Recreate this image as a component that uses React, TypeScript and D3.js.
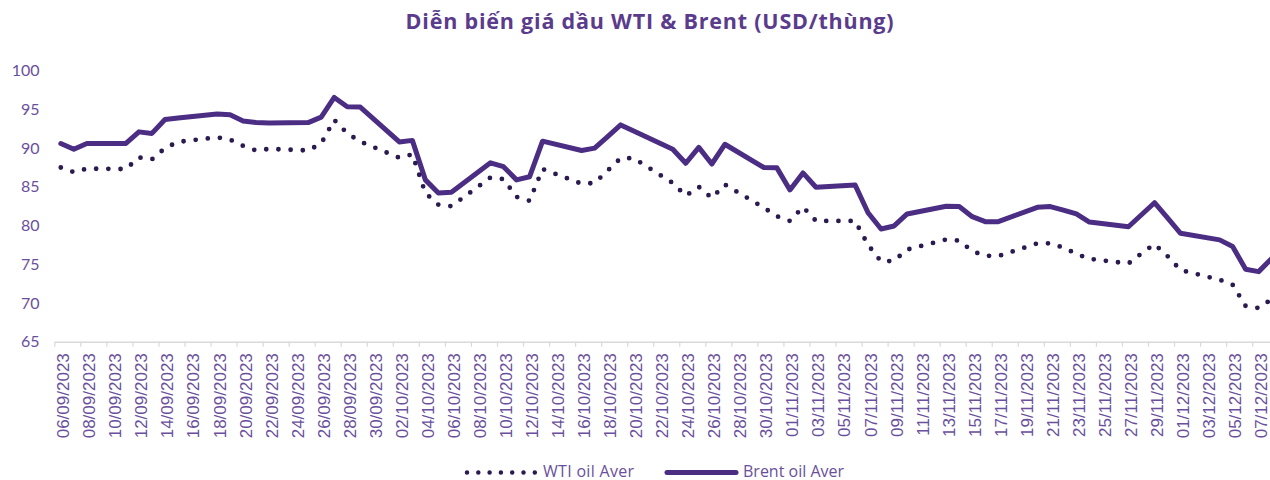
import React from 'react';
import * as d3 from 'd3';

// trading days shown on the chart (weekends are skipped, the line joins across them)
const tradeDays = [
    "06/09/2023", "07/09/2023", "08/09/2023", "11/09/2023", "12/09/2023", "13/09/2023", "14/09/2023", "15/09/2023",
    "18/09/2023", "19/09/2023", "20/09/2023", "21/09/2023", "22/09/2023", "25/09/2023", "26/09/2023", "27/09/2023",
    "28/09/2023", "29/09/2023", "02/10/2023", "03/10/2023", "04/10/2023", "05/10/2023", "06/10/2023", "09/10/2023",
    "10/10/2023", "11/10/2023", "12/10/2023", "13/10/2023", "16/10/2023", "17/10/2023", "18/10/2023", "19/10/2023",
    "20/10/2023", "23/10/2023", "24/10/2023", "25/10/2023", "26/10/2023", "27/10/2023", "30/10/2023", "31/10/2023",
    "01/11/2023", "02/11/2023", "03/11/2023", "06/11/2023", "07/11/2023", "08/11/2023", "09/11/2023", "10/11/2023",
    "13/11/2023", "14/11/2023", "15/11/2023", "16/11/2023", "17/11/2023", "20/11/2023", "21/11/2023", "22/11/2023",
    "23/11/2023", "24/11/2023", "27/11/2023", "28/11/2023", "29/11/2023", "30/11/2023", "01/12/2023", "04/12/2023",
    "05/12/2023", "06/12/2023", "07/12/2023", "08/12/2023"
];

const wtiAver = [
    87.5, 86.9, 87.35, 87.3, 88.8, 88.55, 90.0, 90.8,
    91.4, 91.1, 90.3, 89.7, 89.9, 89.7, 90.6, 93.65,
    91.9, 90.85, 88.75, 89.2, 84.2, 82.7, 82.5, 86.2,
    86.0, 83.7, 83.2, 87.3, 85.4, 85.5, 87.1, 88.7,
    88.7, 85.5, 83.85, 85.0, 83.55, 85.3, 82.3, 81.2,
    80.6, 82.4, 80.6, 80.6, 77.5, 75.35, 75.45, 76.9,
    78.2, 78.05, 76.7, 76.1, 76.05, 77.7, 77.7, 77.15,
    76.35, 75.7, 75.1, 76.4, 77.6, 76.05, 74.25, 73.0,
    72.35, 69.6, 69.35, 70.5
];

const brentAver = [
    90.6, 89.85, 90.6, 90.6, 92.1, 91.9, 93.7, 93.9,
    94.4, 94.3, 93.5, 93.3, 93.25, 93.3, 94.0, 96.55,
    95.35, 95.3, 90.8, 91.0, 85.9, 84.2, 84.3, 88.1,
    87.6, 85.9, 86.3, 90.9, 89.7, 90.0, 91.5, 93.0,
    92.2, 89.85, 88.05, 90.1, 87.95, 90.5, 87.5, 87.45,
    84.6, 86.8, 84.95, 85.25, 81.65, 79.55, 79.95, 81.5,
    82.5, 82.45, 81.15, 80.5, 80.5, 82.35, 82.45, 82.0,
    81.5, 80.45, 79.85, 81.4, 82.95, 81.0, 79.0, 78.15,
    77.3, 74.35, 74.05, 75.75
];

const yTicks = [65, 70, 75, 80, 85, 90, 95, 100];
const seriesNames = ["WTI oil Aver", "Brent oil Aver"];
const chartTitle = "Diễn biến giá dầu WTI & Brent (USD/thùng)";

export default class OilChart extends React.Component<any, any> {
    svgNode: SVGSVGElement | null = null;
    margin: any;
    width: number;
    height: number;

    constructor(props) {
        super(props);
        this.width = 1270;
        this.height = 480;
        // plot area; the right edge runs a bit past the picture, as in the source
        this.margin = { top: 70.7, left: 54.3, bottom: 138.3, right: -8.2 };
        this.drawChart = this.drawChart.bind(this);
    }

    componentDidMount() {
        this.drawChart();
    }

    drawChart() {
        const svg = d3.select(this.svgNode);
        svg.selectAll("*").remove();

        const parse = d3.utcParse("%d/%m/%Y");
        const fmt = d3.utcFormat("%d/%m/%Y");
        const dates = tradeDays.map(d => parse(d));
        const first = dates[0];
        const last = dates[dates.length - 1];
        const half = 12 * 3600 * 1000;

        const x = d3.scaleUtc()
            .domain([new Date(+first - half), new Date(+last + half)])
            .range([this.margin.left, this.width - this.margin.right]);

        const y = d3.scaleLinear()
            .domain([65, 100])
            .range([this.height - this.margin.bottom, this.margin.top]);

        const purple = "#5a3b8c";
        const labelColor = "#6a4f9c";

        // title
        svg.append("text")
            .attr("x", 650)
            .attr("y", 29)
            .attr("text-anchor", "middle")
            .attr("font-family", "'Open Sans', sans-serif")
            .attr("font-weight", "bold")
            .attr("font-size", 21.5)
            .attr("letter-spacing", 0.8)
            .attr("fill", purple)
            .text(chartTitle);

        // y labels (no axis line, no grid)
        svg.append("g")
            .selectAll("text")
            .data(yTicks)
            .join("text")
            .attr("x", 39.5)
            .attr("y", d => y(d))
            .attr("dy", "0.35em")
            .attr("text-anchor", "end")
            .attr("font-family", "Lato, sans-serif")
            .attr("font-size", 16)
            .attr("fill", labelColor)
            .text(d => d);

        // x axis: tick marks between every second day
        const bounds = d3.utcDay.range(d3.utcDay.offset(first, -1), d3.utcDay.offset(last, 2), 2)
            .map(d => new Date(+d + half));
        const labelDays = d3.utcDay.range(first, d3.utcDay.offset(last, 1), 2);

        const axisY = this.height - this.margin.bottom;
        const ticksG = svg.append("g")
            .attr("transform", `translate(0,${axisY})`)
            .call(d3.axisBottom(x).tickValues(bounds).tickSize(5).tickSizeOuter(0).tickFormat(() => ""));
        ticksG.select(".domain").attr("stroke", "#d9d9d9").attr("stroke-width", 1.5);
        ticksG.selectAll(".tick line").attr("stroke", "#d9d9d9").attr("stroke-width", 1.2);

        const labelsG = svg.append("g")
            .attr("transform", `translate(0,${axisY})`)
            .call(d3.axisBottom(x).tickValues(labelDays).tickSize(0).tickFormat(d => fmt(d as Date)));
        labelsG.select(".domain").remove();
        labelsG.selectAll(".tick text")
            .attr("transform", "rotate(-90)")
            .attr("text-anchor", "end")
            .attr("x", -11.5)
            .attr("y", 2)
            .attr("dy", "0.35em")
            .attr("font-family", "'Liberation Sans', Arial, sans-serif")
            .attr("font-size", 17)
            .attr("fill", labelColor);

        // lines
        const line = d3.line<number>()
            .x((d, i) => x(dates[i]))
            .y(d => y(d));

        svg.append("path")
            .datum(brentAver)
            .attr("d", line)
            .attr("fill", "none")
            .attr("stroke", "#4b2d84")
            .attr("stroke-width", 5)
            .attr("stroke-linejoin", "round")
            .attr("stroke-linecap", "round");

        svg.append("path")
            .datum(wtiAver)
            .attr("d", line)
            .attr("fill", "none")
            .attr("stroke", "#2b1a4f")
            .attr("stroke-width", 4.8)
            .attr("stroke-dasharray", "0 12.2")
            .attr("stroke-linecap", "round");

        // legend
        const legY = 471.5;
        const legend = svg.append("g");
        legend.append("line")
            .attr("x1", 467).attr("x2", 535)
            .attr("y1", legY + 1).attr("y2", legY + 1)
            .attr("stroke", "#2b1a4f")
            .attr("stroke-width", 4.5)
            .attr("stroke-dasharray", "0 11.3")
            .attr("stroke-linecap", "round");
        legend.append("text")
            .attr("x", 543).attr("y", legY)
            .attr("dy", "0.35em")
            .attr("font-family", "'Open Sans', sans-serif")
            .attr("font-size", 16)
            .attr("letter-spacing", 0.3)
            .attr("fill", labelColor)
            .text(seriesNames[0]);
        legend.append("line")
            .attr("x1", 667).attr("x2", 736)
            .attr("y1", legY + 1).attr("y2", legY + 1)
            .attr("stroke", "#4b2d84")
            .attr("stroke-width", 5)
            .attr("stroke-linecap", "round");
        legend.append("text")
            .attr("x", 743).attr("y", legY)
            .attr("dy", "0.35em")
            .attr("font-family", "'Open Sans', sans-serif")
            .attr("font-size", 16)
            .attr("fill", labelColor)
            .text(seriesNames[1]);
    }

    render() {
        return (
            <svg
                ref={el => { this.svgNode = el; }}
                width={this.width}
                height={this.height}
                style={{ position: "absolute", left: 0, top: 0, background: "white" }}
            />
        );
    }
}
